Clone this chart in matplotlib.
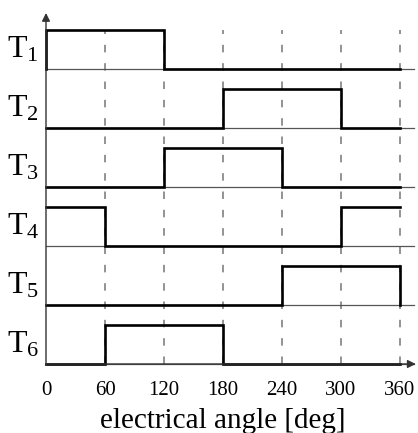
import matplotlib
matplotlib.use("Agg")
import matplotlib.pyplot as plt

plt.rcParams['font.family'] = 'Liberation Serif'
plt.rcParams['mathtext.fontset'] = 'custom'
plt.rcParams['mathtext.rm'] = 'Liberation Serif'
plt.rcParams['mathtext.it'] = 'Liberation Serif:italic'

# switching states of the six transistors, one value per 60 deg sector
angles = [0, 60, 120, 180, 240, 300, 360]
labels = ['T$_1$', 'T$_2$', 'T$_3$', 'T$_4$', 'T$_5$', 'T$_6$']
states = [
    [1, 1, 0, 0, 0, 0],
    [0, 0, 0, 1, 1, 0],
    [0, 0, 1, 1, 0, 0],
    [1, 0, 0, 0, 0, 1],
    [0, 0, 0, 0, 1, 1],
    [0, 1, 1, 0, 0, 0],
]
tick_labels = ['0', '60', '120', '180', '240', '300', '360']

W, H = 418, 433
fig = plt.figure(figsize=(W / 100, H / 100), dpi=100)
ax = fig.add_axes([46 / W, (H - 364) / H, 354 / W, 354 / H])
ax.set_xlim(0, 360)
ax.set_ylim(0, 6)
for s in ax.spines.values():
    s.set_visible(False)

high = 0.66
x_end = 374  # where the thin lines / axis arrow stop

# dashed grid lines
for a in angles[1:]:
    ax.plot([a, a], [0, 5 + high], color='#808080', lw=1.2,
            dashes=(4.5, 6.5), clip_on=False, zorder=1)

for k, (lab, st) in enumerate(zip(labels, states)):
    base = 5 - k
    # thin baseline
    ax.plot([0, x_end], [base, base], color='#555555', lw=0.9,
            clip_on=False, zorder=2)
    # pulse signal
    xs, ys = [], []
    if k == 0:
        xs.append(0)
        ys.append(base)
    for i in range(6):
        lvl = base + high * st[i]
        xs += [angles[i], angles[i + 1]]
        ys += [lvl, lvl]
    if k == 4:
        xs.append(360)
        ys.append(base)
    ax.plot(xs, ys, color='black', lw=1.9, clip_on=False, zorder=3,
            solid_joinstyle='miter')
    ax.text(-39 / 354 * 360, base + high / 2, lab, fontsize=23,
            ha='left', va='center')

# axes with arrows
ax.annotate('', xy=(0, 5.95), xytext=(0, -0.02),
            arrowprops=dict(arrowstyle='-|>', color='#333333', lw=1.0,
                            mutation_scale=12, shrinkA=0, shrinkB=0),
            annotation_clip=False)
ax.annotate('', xy=(x_end + 2, 0), xytext=(0, 0),
            arrowprops=dict(arrowstyle='-|>', color='#333333', lw=1.0,
                            mutation_scale=12, shrinkA=0, shrinkB=0),
            annotation_clip=False)

ax.set_yticks([])
ax.set_xticks(angles)
ax.set_xticklabels(tick_labels, fontsize=15)
ax.tick_params(axis='x', length=0, pad=12)
ax.set_xlabel('electrical angle [deg]', fontsize=21, labelpad=6)

plt.savefig('out.png', dpi=100)
